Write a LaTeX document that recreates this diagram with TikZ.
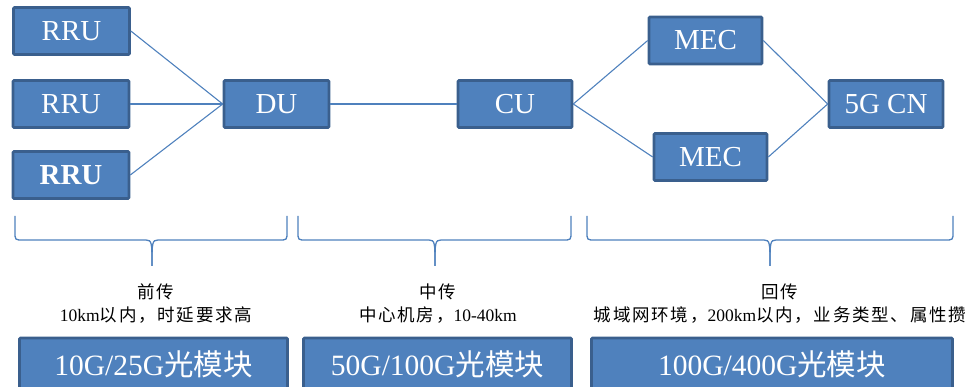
\documentclass[tikz,border=0pt]{standalone}
\usepackage{fontspec}
\setmainfont{Liberation Serif}
\newfontfamily\cjk{Noto Sans CJK SC}
\newfontfamily\cjkwide[LetterSpace=10]{Noto Sans CJK SC}
\begin{document}
\begin{tikzpicture}[x=1pt,y=-1pt,
  blk/.style={draw=boxedge,fill=boxfill,line width=2.6pt,rounded corners=1pt,
    text=white,font=\fontsize{29}{29}\selectfont,inner sep=0pt,
    minimum height=47pt},
  band/.style={blk,minimum height=52pt,font=\fontsize{29.5}{29.5}\selectfont},
  link/.style={draw=boxfill,line width=1.1pt},
  brc/.style={draw=boxfill,line width=1.3pt},
  note/.style={font=\fontsize{17.5}{23}\selectfont,align=center,text=black,inner sep=0pt}]
\definecolor{boxfill}{HTML}{4F81BD}
\definecolor{boxedge}{HTML}{3A5F8D}
\useasboundingbox (0,0) rectangle (978,387);

% network elements
\node[blk,minimum width=116pt] (rru1) at (71.5,31) {RRU};
\node[blk,minimum width=116pt] (rru2) at (71,104) {RRU};
\node[blk,minimum width=116pt] (rru3) at (71,175) {\textbf{RRU}};
\node[blk,minimum width=105pt] (du) at (276.5,104) {DU};
\node[blk,minimum width=114pt] (cu) at (515,104) {CU};
\node[blk,minimum width=113pt] (mec1) at (705.5,40.5) {MEC};
\node[blk,minimum width=113pt] (mec2) at (710.5,157) {MEC};
\node[blk,minimum width=114pt] (cn) at (886,104) {5G CN};

% links
\draw[link] (rru1.east) -- (du.west);
\draw[link] (rru2.east) -- (du.west);
\draw[link] (rru3.east) -- (du.west);
\draw[link] (du.east) -- (cu.west);
\draw[link] (cu.east) -- (mec1.west);
\draw[link] (cu.east) -- (mec2.west);
\draw[link] (mec1.east) -- (cn.west);
\draw[link] (mec2.east) -- (cn.west);

% braces under each segment
\foreach \l/\t/\r in {15/152/287, 298/435/571, 587/770/953}{
  \draw[brc] (\l,216) -- (\l,232) .. controls (\l,240) .. (\l+8,240)
    -- (\t-6,240) .. controls (\t,240) and (\t,243) .. (\t,266);
  \draw[brc] (\r,216) -- (\r,232) .. controls (\r,240) .. (\r-8,240)
    -- (\t+6,240) .. controls (\t,240) and (\t,243) .. (\t,266);
}

% segment descriptions
\node[note] (n1) at (156,304) {{\cjkwide 前传}\\10km{\cjkwide 以内，时延要求高}};
\node[note] (n2) at (438,304) {{\cjkwide 中传}\\{\cjkwide 中心机房，}10-40km};
\node[note] (n3) at (780,304) {{\cjkwide 回传}\\{\cjkwide 城域网环境，}200km{\cjkwide 以内，业务类型、属性攒}};

% optical module bands
\node[band,minimum width=268pt] (m1) at (153.5,364) {10G/25G{\cjk 光模块}};
\node[band,minimum width=268pt] (m2) at (437.5,364) {50G/100G{\cjk 光模块}};
\node[band,minimum width=361pt] (m3) at (772,364) {100G/400G{\cjk 光模块}};
\end{tikzpicture}
\end{document}
